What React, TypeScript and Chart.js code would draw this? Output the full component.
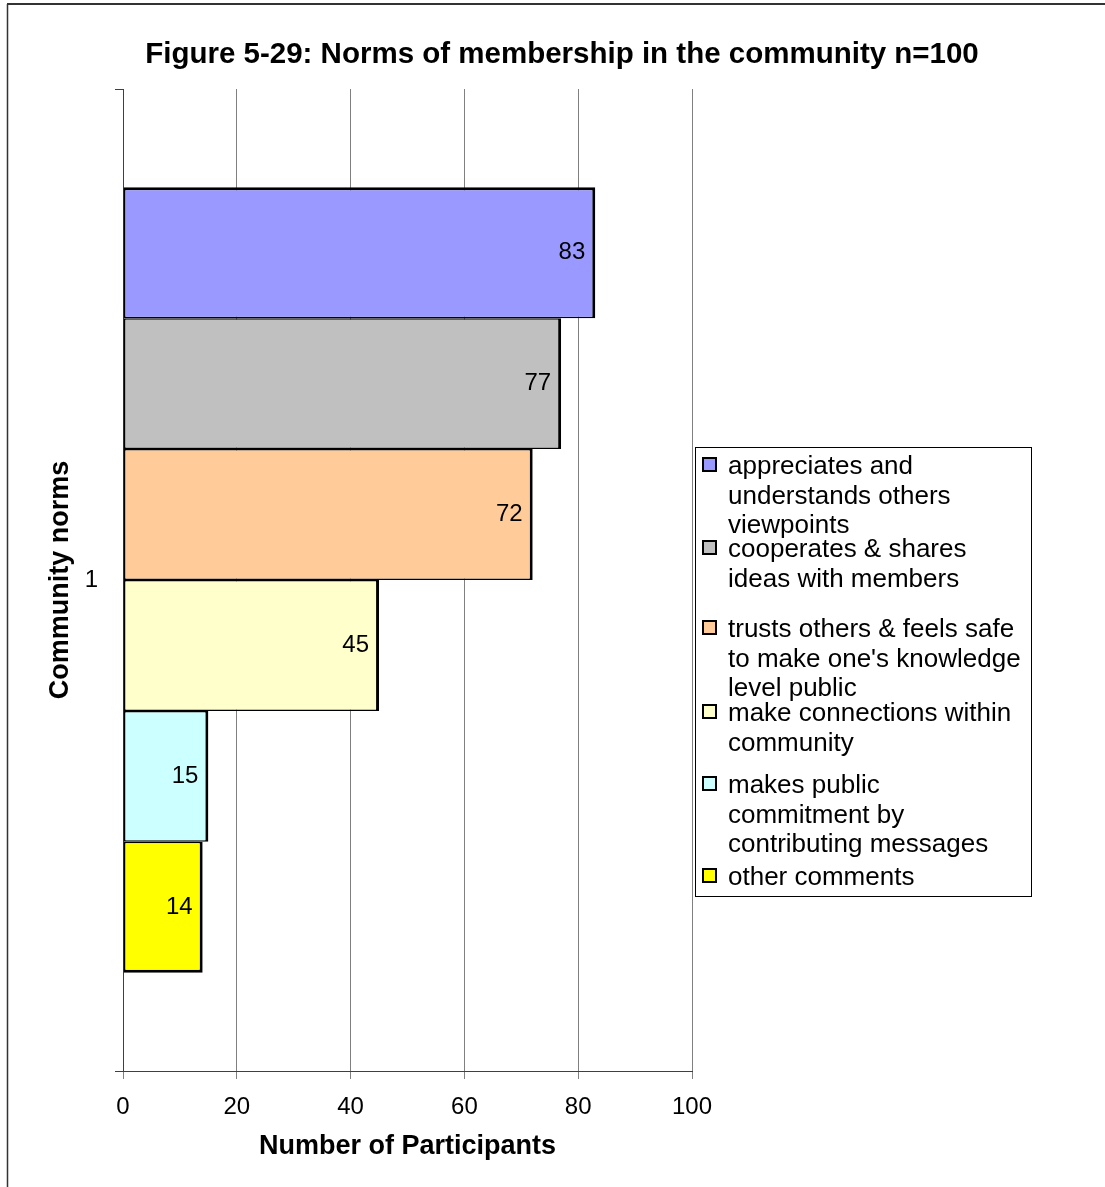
import React, { useEffect, useRef } from "react";
import { Chart, registerables } from "chart.js";

Chart.register(...registerables);

const chartTitle = "Figure 5-29: Norms of membership in the community n=100";
const xAxisTitle = "Number of Participants";
const yAxisTitle = "Community norms";
const categories = ["1"];
const seriesNames = [
  "appreciates and understands others viewpoints",
  "cooperates & shares ideas with members",
  "trusts others & feels safe to make one's knowledge level public",
  "make connections within community",
  "makes public commitment by contributing messages",
  "other comments",
];
const seriesValues = [83, 77, 72, 45, 15, 14];
const seriesColors = ["#9999FF", "#C0C0C0", "#FFCC99", "#FFFFCC", "#CCFFFF", "#FFFF00"];
const legendLines = [
  ["appreciates and", "understands others", "viewpoints"],
  ["cooperates & shares", "ideas with members"],
  ["trusts others & feels safe", "to make one's knowledge", "level public"],
  ["make connections within", "community"],
  ["makes public", "commitment by", "contributing messages"],
  ["other comments"],
];
const xMin = 0;
const xMax = 100;
const xStep = 20;

const FONT = "'Liberation Sans', Arial, sans-serif";

// layout / style constants
const LEGEND_BOX = { left: 695.5, top: 447.5, right: 1031.5, bottom: 896.5 };
const LEGEND_BASELINES = [474, 557, 637, 721, 793, 885];
const LEGEND_LINE_H = 29.5;

const decorPlugin = {
  id: "decor",
  beforeDraw(chart: any) {
    const ctx = chart.ctx;
    ctx.save();
    ctx.fillStyle = "#ffffff";
    ctx.fillRect(0, 0, chart.width, chart.height);
    ctx.strokeStyle = "#333333";
    ctx.lineWidth = 2;
    ctx.beginPath();
    ctx.moveTo(7, 4);
    ctx.lineTo(chart.width, 4);
    ctx.stroke();
    ctx.lineWidth = 1.5;
    ctx.beginPath();
    ctx.moveTo(7.5, 4);
    ctx.lineTo(7.5, chart.height);
    ctx.stroke();
    ctx.restore();
  },
  afterDraw(chart: any) {
    const ctx = chart.ctx;
    ctx.save();
    // title
    ctx.fillStyle = "#000";
    ctx.font = `bold 29.5px ${FONT}`;
    ctx.textAlign = "center";
    ctx.textBaseline = "alphabetic";
    ctx.fillText(chartTitle, 562, 63);
    // legend
    const b = LEGEND_BOX;
    ctx.strokeStyle = "#000";
    ctx.lineWidth = 1;
    ctx.strokeRect(b.left, b.top, b.right - b.left, b.bottom - b.top);
    ctx.font = `26px ${FONT}`;
    ctx.textAlign = "left";
    chart.data.datasets.forEach((ds: any, i: number) => {
      const base = LEGEND_BASELINES[i];
      ctx.fillStyle = ds.backgroundColor;
      ctx.fillRect(703, base - 16, 13, 13);
      ctx.strokeStyle = "#000";
      ctx.lineWidth = 2;
      ctx.strokeRect(703, base - 16, 13, 13);
      ctx.fillStyle = "#000";
      legendLines[i].forEach((line, j) => {
        ctx.fillText(line, 728, base + j * LEGEND_LINE_H);
      });
    });
    ctx.restore();
  },
  afterDatasetsDraw(chart: any) {
    const ctx = chart.ctx;
    ctx.save();
    ctx.fillStyle = "#000";
    ctx.font = `24px ${FONT}`;
    ctx.textAlign = "right";
    ctx.textBaseline = "middle";
    chart.data.datasets.forEach((ds: any, i: number) => {
      const meta = chart.getDatasetMeta(i);
      meta.data.forEach((el: any, k: number) => {
        ctx.fillText(String(ds.data[k]), el.x - 10, el.y);
      });
    });
    ctx.restore();
  },
};

export default function App() {
  const ref = useRef<HTMLCanvasElement | null>(null);
  useEffect(() => {
    if (!ref.current) return;
    Chart.defaults.font.family = FONT;
    const n = seriesValues.length;
    const chart = new Chart(ref.current, {
      type: "bar",
      data: {
        labels: categories,
        datasets: seriesNames.map((name, i) => ({
          label: name,
          data: [seriesValues[i]],
          backgroundColor: seriesColors[i],
          borderColor: "#000000",
          borderWidth: { top: i === 0 ? 3 : 1.5, bottom: i === n - 1 ? 3 : 1.5, left: 2, right: 3 },
          borderSkipped: false,
          inflateAmount: 0,
          categoryPercentage: 0.8,
          barPercentage: 1.0,
        })),
      },
      options: {
        indexAxis: "y",
        animation: false,
        responsive: false,
        devicePixelRatio: 1,
        layout: { padding: { top: 89, right: 413, left: 0, bottom: 0 } },
        plugins: {
          legend: { display: false },
          title: { display: false },
          tooltip: { enabled: false },
        },
        scales: {
          x: {
            type: "linear",
            min: xMin,
            max: xMax,
            ticks: { stepSize: xStep, color: "#000", font: { size: 24 }, padding: 14 },
            grid: { color: "#808080", lineWidth: 1, tickLength: 8 },
            border: { color: "#404040", width: 1 },
            title: {
              display: true,
              text: xAxisTitle,
              color: "#000",
              font: { size: 27, weight: "bold" },
              padding: { top: 0, bottom: 24 },
            },
            afterFit(scale: any) {
              scale.height = 116;
            },
          },
          y: {
            type: "category",
            ticks: { color: "#000", font: { size: 24 }, padding: 17 },
            grid: { offset: true, drawOnChartArea: false, color: "#404040", tickLength: 8 },
            border: { color: "#404040", width: 1 },
            title: {
              display: true,
              text: yAxisTitle,
              color: "#000",
              font: { size: 27, weight: "bold" },
              padding: { top: 44, bottom: 0 },
            },
            afterFit(scale: any) {
              scale.width = 123;
            },
          },
        },
      },
      plugins: [decorPlugin],
    } as any);
    return () => chart.destroy();
  }, []);
  return (
    <div style={{ position: "absolute", left: 0, top: 0, width: 1105, height: 1187 }}>
      <canvas ref={ref} width={1105} height={1187} style={{ display: "block", width: 1105, height: 1187 }} />
    </div>
  );
}
